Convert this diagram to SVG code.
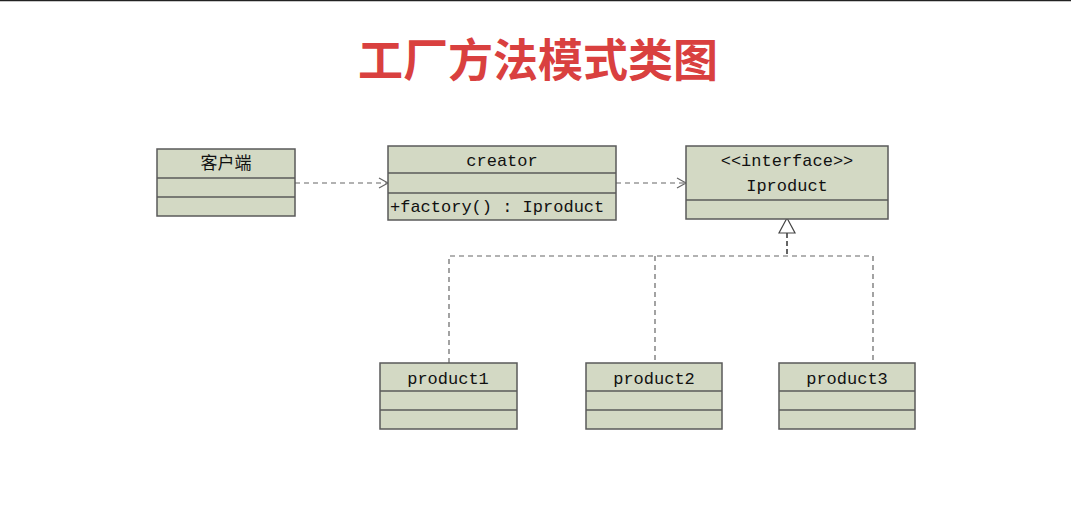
<svg xmlns="http://www.w3.org/2000/svg" width="1071" height="525" viewBox="0 0 1071 525">
<style>
.box{fill:#d3d9c4;stroke:#5a5a5a;stroke-width:1.5}
.div{stroke:#5a5a5a;stroke-width:1.5}
.t{font-family:"Liberation Mono","Noto Sans CJK SC",monospace;font-size:17px;fill:#111;text-anchor:middle}
.c{fill:none;stroke:#666;stroke-width:1.2;stroke-dasharray:5 4}
</style>
<defs>
<marker id="open" markerWidth="12" markerHeight="12" refX="10" refY="6" orient="auto" markerUnits="userSpaceOnUse">
<path d="M1,1 L10,6 L1,11" fill="none" stroke="#666" stroke-width="1.2"/>
</marker>
</defs>
<rect width="1071" height="525" fill="#fff"/>
<line x1="0" y1="0.5" x2="1071" y2="0.5" stroke="#222" stroke-width="1.5"/>
<text x="538" y="77" font-family="Noto Sans CJK SC,sans-serif" font-size="45" font-weight="bold" fill="#d9403f" text-anchor="middle">工厂方法模式类图</text>
<g id="connectors">
<line class="c" x1="295" y1="183" x2="388" y2="183" marker-end="url(#open)"/>
<line class="c" x1="616" y1="183" x2="686" y2="183" marker-end="url(#open)"/>
<polyline class="c" points="449,363 449,256 873,256 873,363"/>
<line class="c" x1="655" y1="256" x2="655" y2="363"/>
<line x1="787" y1="233" x2="787" y2="256" stroke="#333" stroke-width="1.5" stroke-dasharray="5 3"/>
<polygon points="787,218 779,233 795,233" fill="#fff" stroke="#444" stroke-width="1.2"/>
</g>
<g id="client">
<rect class="box" x="157" y="149" width="138" height="67"/>
<line class="div" x1="157" y1="178" x2="295" y2="178"/>
<line class="div" x1="157" y1="197" x2="295" y2="197"/>
<text class="t" x="226" y="169">客户端</text>
</g>
<g id="creator">
<rect class="box" x="388" y="146" width="228" height="74"/>
<line class="div" x1="388" y1="173" x2="616" y2="173"/>
<line class="div" x1="388" y1="193" x2="616" y2="193"/>
<text class="t" x="502" y="166">creator</text>
<text class="t" x="390" y="212" style="text-anchor:start">+factory() : Iproduct</text>
</g>
<g id="iproduct">
<rect class="box" x="686" y="146" width="202" height="73"/>
<line class="div" x1="686" y1="200" x2="888" y2="200"/>
<text class="t" x="787" y="166" fill="#444">&lt;&lt;interface&gt;&gt;</text>
<text class="t" x="787" y="191">Iproduct</text>
</g>
<g id="product1">
<rect class="box" x="380" y="363" width="137" height="66"/>
<line class="div" x1="380" y1="391" x2="517" y2="391"/>
<line class="div" x1="380" y1="410" x2="517" y2="410"/>
<text class="t" x="448" y="384">product1</text>
</g>
<g id="product2">
<rect class="box" x="586" y="363" width="136" height="66"/>
<line class="div" x1="586" y1="391" x2="722" y2="391"/>
<line class="div" x1="586" y1="410" x2="722" y2="410"/>
<text class="t" x="654" y="384">product2</text>
</g>
<g id="product3">
<rect class="box" x="779" y="363" width="136" height="66"/>
<line class="div" x1="779" y1="391" x2="915" y2="391"/>
<line class="div" x1="779" y1="410" x2="915" y2="410"/>
<text class="t" x="847" y="384">product3</text>
</g>
</svg>
